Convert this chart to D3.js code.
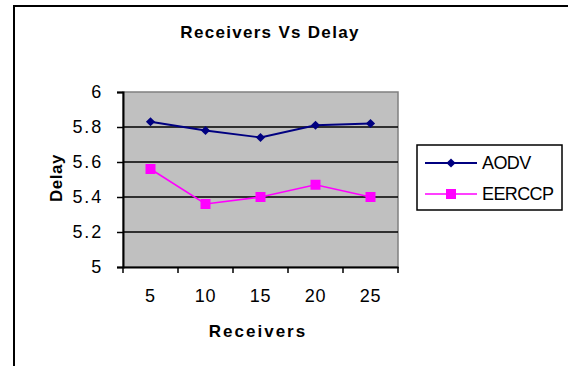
<!DOCTYPE html>
<html><head><meta charset="utf-8">
<script src="https://cdn.jsdelivr.net/npm/d3@7"></script>
<style>body{margin:0;background:#fff}svg{display:block}text{font-family:"Liberation Sans",Arial,sans-serif}</style>
</head><body>
<script>
const categories = ["5","10","15","20","25"];
const aodv = [5.83, 5.78, 5.74, 5.81, 5.82];
const eerccp = [5.56, 5.36, 5.40, 5.47, 5.40];
const yTicks = [5, 5.2, 5.4, 5.6, 5.8, 6];
const seriesNames = ["AODV", "EERCCP"];
const seriesColors = ["#000080", "#FF00FF"];

const W = 568, H = 366;
const svg = d3.select("body").append("svg").attr("width", W).attr("height", H);

// outer frame (top and left visible)
svg.append("line").attr("x1",13).attr("x2",W).attr("y1",6).attr("y2",6).attr("stroke","#000").attr("stroke-width",2);
svg.append("line").attr("x1",14).attr("x2",14).attr("y1",5).attr("y2",H).attr("stroke","#000").attr("stroke-width",2);

const L = 123, R = 398, T = 92, B = 267;
const x = d3.scaleBand().domain(categories).range([L, R]);
const y = d3.scaleLinear().domain([5, 6]).range([B, T]);

// plot area
svg.append("rect").attr("x",L).attr("y",T).attr("width",R-L).attr("height",B-T)
  .attr("fill","#C0C0C0").attr("stroke","#808080").attr("stroke-width",1.5);

// gridlines
svg.append("g").selectAll("line").data(yTicks.filter(v => v > 5 && v < 6)).join("line")
  .attr("x1",L).attr("x2",R).attr("y1",d=>y(d)).attr("y2",d=>y(d))
  .attr("stroke","#000").attr("stroke-width",1.5);

// y axis
const yAxis = svg.append("g").attr("transform",`translate(${L},0)`)
  .call(d3.axisLeft(y).tickValues(yTicks).tickSize(6).tickPadding(14).tickFormat(d => d3.format("")(+d.toFixed(1))));
yAxis.select(".domain").attr("stroke","#000").attr("stroke-width",2);
yAxis.selectAll(".tick line").attr("stroke","#000").attr("stroke-width",1.5);
yAxis.selectAll("text").attr("font-size",18).attr("fill","#000").attr("letter-spacing",1.8)
  .attr("font-family","Liberation Sans, Arial, sans-serif");

// x axis
const xAxis = svg.append("g").attr("transform",`translate(0,${B})`)
  .call(d3.axisBottom(x).tickSize(0).tickPadding(29));
xAxis.select(".domain").attr("stroke","#000").attr("stroke-width",2);
xAxis.selectAll("text").attr("font-size",18).attr("fill","#000").attr("letter-spacing",0.8)
  .attr("font-family","Liberation Sans, Arial, sans-serif").attr("dy","0.35em");
// boundary ticks
const bounds = categories.map(c => x(c)).concat([R]);
svg.append("g").selectAll("line").data(bounds).join("line")
  .attr("x1",d=>d).attr("x2",d=>d).attr("y1",B).attr("y2",B+6).attr("stroke","#000").attr("stroke-width",1.5);

const cx = c => x(c) + x.bandwidth()/2;
const line = d3.line().x((d,i)=>cx(categories[i])).y(d=>y(d));

// AODV
svg.append("path").datum(aodv).attr("d",line).attr("fill","none").attr("stroke",seriesColors[0]).attr("stroke-width",1.8);
const diamond = d3.symbol().type(d3.symbolSquare).size(42);
svg.append("g").selectAll("path").data(aodv).join("path")
  .attr("d",diamond()).attr("fill",seriesColors[0])
  .attr("transform",(d,i)=>`translate(${cx(categories[i])},${y(d)}) rotate(45)`);

// EERCCP
svg.append("path").datum(eerccp).attr("d",line).attr("fill","none").attr("stroke",seriesColors[1]).attr("stroke-width",1.6);
svg.append("g").selectAll("rect").data(eerccp).join("rect")
  .attr("x",(d,i)=>cx(categories[i])-5).attr("y",d=>y(d)-5).attr("width",10).attr("height",10)
  .attr("fill",seriesColors[1]);

// title
svg.append("text").attr("x",270).attr("y",38).attr("text-anchor","middle")
  .attr("font-size",17).attr("font-weight","bold").attr("letter-spacing",1.3).text("Receivers Vs Delay");
// axis titles
svg.append("text").attr("x",258).attr("y",337).attr("text-anchor","middle")
  .attr("font-size",17).attr("font-weight","bold").attr("letter-spacing",2).text("Receivers");
svg.append("text").attr("transform","translate(62,178) rotate(-90)").attr("text-anchor","middle")
  .attr("font-size",17).attr("font-weight","bold").attr("letter-spacing",0.5).text("Delay");

// legend
const lg = svg.append("g");
lg.append("rect").attr("x",417).attr("y",145).attr("width",145).attr("height",65)
  .attr("fill","#fff").attr("stroke","#000").attr("stroke-width",1.5);
const ly = [163, 194];
seriesNames.forEach((n,i) => {
  lg.append("line").attr("x1",425).attr("x2",477).attr("y1",ly[i]).attr("y2",ly[i])
    .attr("stroke",seriesColors[i]).attr("stroke-width",i===0?1.8:1.6);
  if (i===0) lg.append("path").attr("d",diamond()).attr("fill",seriesColors[0])
    .attr("transform",`translate(451,${ly[i]}) rotate(45)`);
  else lg.append("rect").attr("x",446).attr("y",ly[i]-5).attr("width",10).attr("height",10).attr("fill",seriesColors[1]);
  lg.append("text").attr("x",482).attr("y",ly[i]).attr("dy","0.36em").attr("font-size",18)
    .attr("letter-spacing",-0.6).text(n);
});
</script>
</body></html>
